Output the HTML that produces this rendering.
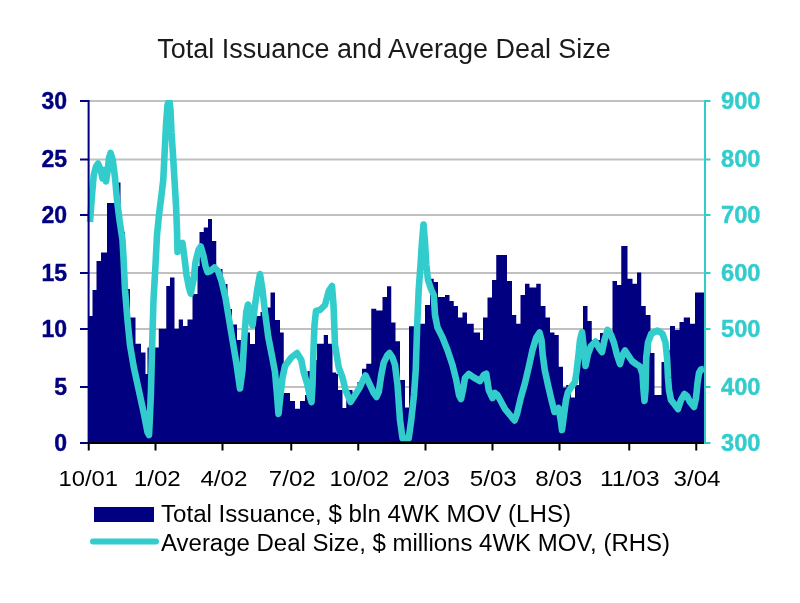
<!DOCTYPE html>
<html><head><meta charset="utf-8"><title>Total Issuance and Average Deal Size</title>
<style>html,body{margin:0;padding:0;background:#fff;overflow:hidden}body{width:800px;height:603px;font-family:"Liberation Sans",sans-serif}</style></head>
<body>
<svg width="800" height="603" viewBox="0 0 800 603" style="display:block;filter:blur(0.55px);font-family:'Liberation Sans',sans-serif">
<rect width="800" height="603" fill="#fff"/>
<rect x="89" y="100" width="616" height="2" fill="#c0c0c0"/>
<rect x="89" y="158.5" width="616" height="2" fill="#c0c0c0"/>
<rect x="89" y="214" width="616" height="2" fill="#c0c0c0"/>
<rect x="89" y="272" width="616" height="2" fill="#c0c0c0"/>
<rect x="89" y="328" width="616" height="2" fill="#c0c0c0"/>
<rect x="89" y="386" width="616" height="2" fill="#c0c0c0"/>
<path d="M89,442.5L89,316L92.5,316L92.5,290L96.5,290L96.5,261L101,261L101,252.5L107,252.5L107,203L118,203L118,182.5L120.5,182.5L120.5,232L125,232L125,289L130,289L130,317.5L135.5,317.5L135.5,343.75L141,343.75L141,352.5L145.5,352.5L145.5,374L147.5,374L147.5,347.5L158.75,347.5L158.75,328.75L166.25,328.75L166.25,286L170,286L170,277.5L174.5,277.5L174.5,328.75L178.75,328.75L178.75,319.5L183,319.5L183,326L187.5,326L187.5,319.5L192.5,319.5L192.5,294L197.5,294L197.5,266L199.5,266L199.5,232L203.75,232L203.75,227.5L208,227.5L208,219L212,219L212,241L216.25,241L216.25,269L222.5,269L222.5,284L227.5,284L227.5,309L232,309L232,324.5L237,324.5L237,340L245,340L245,332.5L250,332.5L250,344L255,344L255,316L260.5,316L260.5,312L266.25,312L266.25,307.5L270.5,307.5L270.5,292.5L275,292.5L275,320L280,320L280,332.5L283.75,332.5L283.75,393L290,393L290,401L295,401L295,408.75L300,408.75L300,401L305,401L305,395L307.5,395L307.5,371L311.25,371L311.25,360L317,360L317,343.75L323.75,343.75L323.75,335L328,335L328,343.75L332.5,343.75L332.5,372.5L336.25,372.5L336.25,374L338,374L338,390L342.5,390L342.5,408L346.25,408L346.25,390L352.5,390L352.5,392.5L357.5,392.5L357.5,382L362,382L362,368.75L366.25,368.75L366.25,363.75L371.25,363.75L371.25,308.75L376.25,308.75L376.25,310.5L382.5,310.5L382.5,297L387,297L387,286.25L391.25,286.25L391.25,322.5L395.5,322.5L395.5,341.25L400,341.25L400,380L405,380L405,407.5L409,407.5L409,326.25L414,326.25L414,326L420,326L420,323.75L425,323.75L425,305L430,305L430,278.75L433.75,278.75L433.75,282L438,282L438,297L445,297L445,295L449.5,295L449.5,301L453.75,301L453.75,306L458,306L458,317.5L462.5,317.5L462.5,312.5L467,312.5L467,323.75L473.75,323.75L473.75,332.5L480,332.5L480,340L483,340L483,317.5L487.5,317.5L487.5,297.5L492,297.5L492,280L496.25,280L496.25,255L507,255L507,281L512,281L512,315L516.25,315L516.25,323.75L520.5,323.75L520.5,295L525,295L525,283.75L529.5,283.75L529.5,287.5L536.25,287.5L536.25,283.75L540.75,283.75L540.75,306L545.5,306L545.5,317.5L550,317.5L550,332.5L554.5,332.5L554.5,335L558.75,335L558.75,366.75L563,366.75L563,387.5L566.25,387.5L566.25,385L571,385L571,397.5L575,397.5L575,385L579,385L579,350L583,350L583,306L587.5,306L587.5,321L591.75,321L591.75,340L600,340L600,333L612.5,333L612.5,281L617,281L617,285L621.25,285L621.25,246L627.5,246L627.5,278.75L632.5,278.75L632.5,283.75L637,283.75L637,272.5L641.25,272.5L641.25,306L645.75,306L645.75,315L650.5,315L650.5,353L654.5,353L654.5,395L661.5,395L661.5,362L664,362L664,350L670,350L670,326L675,326L675,330L679.5,330L679.5,322L683.75,322L683.75,317.5L690,317.5L690,323.75L695,323.75L695,292.5L704.5,292.5L704.5,442.5Z" fill="#000080"/>
<clipPath id="pc"><rect x="86" y="100" width="622" height="345"/></clipPath>
<polyline clip-path="url(#pc)" points="90,222 92,195 93.75,175 96,166.5 98,163.5 100.5,169 102.5,178.5 104,170 106,181.5 107.5,172 109,158 110.6,153 112.75,160 115,177.5 117,200 119.5,220 122.5,240 123.5,257.5 125,290 127.5,320 130,345 133.75,367 138.75,390 143.75,413 147.5,432 149,435 150,415 151,390 152,350 153.5,300 155.5,265 156.5,245 157,235 159,215 161.5,195 163.25,180 164.5,155 166,125 167.5,105 168.5,102 169.5,102 170.5,110 171.5,132.5 173,155 174.5,180 176,205 177,230 177.5,252 180,247 182.5,243 184.5,258 186.5,275 189,288 190.75,293.5 193.5,280 195.5,262 198.5,250 200.75,246.5 203.5,256 205.5,266 207.5,272 210.5,271 214.5,267.5 218,271 221.5,281 225.5,298 228.75,317.5 232.5,340 236.25,362.5 240,388.5 242.5,370 244.5,335 246.25,312 248,304.5 250.5,317 252.5,325.5 254.75,307 257.5,288 260,274 262.5,290 265,312 268.25,337 272,356 275,372 277,395 278.5,414 280.5,395 282.5,378 285,366 291.25,357.5 297,353 301.25,360 303.75,372.5 307.5,385 310,397 311.5,402 312.5,385 313.5,350 314.5,325 316,311 320,310 325,305 328.75,291 332,286 333.5,305 335,345 338.75,367.5 342.5,377.5 345.5,390 350.5,402 355,395 360,387 363.5,379 365.5,375.5 370,385 373.75,393 376.5,397 378.75,392 381.25,375 383.75,362.5 387.5,355 389.5,353 392.5,357.5 395,365 397.5,385 400,420 402.5,438 408.75,438 411.25,420 414,395 415.75,370 417.2,325 418.7,290 420.5,265 422,242 423.5,224.5 425,242 426.3,265 428,280 431,289 433.75,295 435,315 437.5,327.5 442.5,337.5 447.5,350 452.5,365 456.25,380 459,395 461,399 463,390 465,378 468.75,374 473.75,377.5 480,381 483.75,375 486.25,373.75 488.75,390 492.5,398 495,393 497.5,395 505,409 514.5,420.5 517,414 520.75,398 525,383 528.75,367 532.5,350 536.25,337.5 539.5,332.5 541.5,340 542.75,355 544.75,370 548,385 551.5,400 554.5,412 558.5,408 561,422 562,430 564,415 566,400 568,392 571.25,387 575,382 576.5,372 578.5,355 580,340 582,332 583.5,345 585.5,366 588,354 591,346 595.5,341.5 599,348 602,352 604.5,340 607.5,330 611,335 614,343 617,355 620,364 622.5,355 625,350.5 628,355 632,361 636,364 640,366.5 642.5,374 643.5,390 644.5,401 645.5,390 646.25,357.5 648,342.5 651.25,333.75 657.5,330.5 662.5,333.75 665.5,342.5 667,357.5 668,377.5 669,390 671,400 675,405 678,409 681,400 684.5,394 687,396 690,402 694,407 696,398 697.5,383 699,373 701,369.5 704,369" fill="none" stroke="#33cccc" stroke-width="6.6" stroke-linejoin="round" stroke-linecap="butt"/>
<rect x="87.6" y="100" width="2" height="344" fill="#000080"/>
<rect x="80" y="100" width="9" height="2" fill="#000080"/>
<rect x="80" y="158.5" width="9" height="2" fill="#000080"/>
<rect x="80" y="214" width="9" height="2" fill="#000080"/>
<rect x="80" y="272" width="9" height="2" fill="#000080"/>
<rect x="80" y="328" width="9" height="2" fill="#000080"/>
<rect x="80" y="386" width="9" height="2" fill="#000080"/>
<rect x="80" y="442" width="9" height="2" fill="#000080"/>
<rect x="704" y="100" width="2" height="344" fill="#33cccc"/>
<rect x="705" y="100" width="5.5" height="2" fill="#33cccc"/>
<rect x="705" y="158.5" width="5.5" height="2" fill="#33cccc"/>
<rect x="705" y="214" width="5.5" height="2" fill="#33cccc"/>
<rect x="705" y="272" width="5.5" height="2" fill="#33cccc"/>
<rect x="705" y="328" width="5.5" height="2" fill="#33cccc"/>
<rect x="705" y="386" width="5.5" height="2" fill="#33cccc"/>
<rect x="705" y="442" width="5.5" height="2" fill="#33cccc"/>
<rect x="88" y="442" width="616" height="2" fill="#000"/>
<rect x="87.75" y="443" width="2" height="7.5" fill="#000"/>
<rect x="154.5" y="443" width="2" height="7.5" fill="#000"/>
<rect x="221.5" y="443" width="2" height="7.5" fill="#000"/>
<rect x="290.25" y="443" width="2" height="7.5" fill="#000"/>
<rect x="357.25" y="443" width="2" height="7.5" fill="#000"/>
<rect x="424.5" y="443" width="2" height="7.5" fill="#000"/>
<rect x="491.5" y="443" width="2" height="7.5" fill="#000"/>
<rect x="558.5" y="443" width="2" height="7.5" fill="#000"/>
<rect x="628.25" y="443" width="2" height="7.5" fill="#000"/>
<rect x="695.25" y="443" width="2" height="7.5" fill="#000"/>
<text x="67" y="108.8" text-anchor="end" font-size="23" font-weight="bold" fill="#000080" stroke="#000080" stroke-width="0.4">30</text>
<text x="67" y="167.3" text-anchor="end" font-size="23" font-weight="bold" fill="#000080" stroke="#000080" stroke-width="0.4">25</text>
<text x="67" y="222.8" text-anchor="end" font-size="23" font-weight="bold" fill="#000080" stroke="#000080" stroke-width="0.4">20</text>
<text x="67" y="280.8" text-anchor="end" font-size="23" font-weight="bold" fill="#000080" stroke="#000080" stroke-width="0.4">15</text>
<text x="67" y="336.8" text-anchor="end" font-size="23" font-weight="bold" fill="#000080" stroke="#000080" stroke-width="0.4">10</text>
<text x="67" y="394.8" text-anchor="end" font-size="23" font-weight="bold" fill="#000080" stroke="#000080" stroke-width="0.4">5</text>
<text x="67" y="450.8" text-anchor="end" font-size="23" font-weight="bold" fill="#000080" stroke="#000080" stroke-width="0.4">0</text>
<text x="721" y="108.5" font-size="23" font-weight="bold" fill="#33cccc" stroke="#33cccc" stroke-width="0.4" textLength="39.5" lengthAdjust="spacingAndGlyphs">900</text>
<text x="721" y="167.0" font-size="23" font-weight="bold" fill="#33cccc" stroke="#33cccc" stroke-width="0.4" textLength="39.5" lengthAdjust="spacingAndGlyphs">800</text>
<text x="721" y="222.5" font-size="23" font-weight="bold" fill="#33cccc" stroke="#33cccc" stroke-width="0.4" textLength="39.5" lengthAdjust="spacingAndGlyphs">700</text>
<text x="721" y="280.5" font-size="23" font-weight="bold" fill="#33cccc" stroke="#33cccc" stroke-width="0.4" textLength="39.5" lengthAdjust="spacingAndGlyphs">600</text>
<text x="721" y="336.5" font-size="23" font-weight="bold" fill="#33cccc" stroke="#33cccc" stroke-width="0.4" textLength="39.5" lengthAdjust="spacingAndGlyphs">500</text>
<text x="721" y="394.5" font-size="23" font-weight="bold" fill="#33cccc" stroke="#33cccc" stroke-width="0.4" textLength="39.5" lengthAdjust="spacingAndGlyphs">400</text>
<text x="721" y="450.5" font-size="23" font-weight="bold" fill="#33cccc" stroke="#33cccc" stroke-width="0.4" textLength="39.5" lengthAdjust="spacingAndGlyphs">300</text>
<text x="88.2" y="486" text-anchor="middle" font-size="22" fill="#000" textLength="59.5" lengthAdjust="spacingAndGlyphs">10/01</text>
<text x="157.3" y="486" text-anchor="middle" font-size="22" fill="#000" textLength="47" lengthAdjust="spacingAndGlyphs">1/02</text>
<text x="223.9" y="486" text-anchor="middle" font-size="22" fill="#000" textLength="47" lengthAdjust="spacingAndGlyphs">4/02</text>
<text x="292.3" y="486" text-anchor="middle" font-size="22" fill="#000" textLength="47" lengthAdjust="spacingAndGlyphs">7/02</text>
<text x="359.25" y="486" text-anchor="middle" font-size="22" fill="#000" textLength="59.5" lengthAdjust="spacingAndGlyphs">10/02</text>
<text x="426.5" y="486" text-anchor="middle" font-size="22" fill="#000" textLength="47" lengthAdjust="spacingAndGlyphs">2/03</text>
<text x="493.3" y="486" text-anchor="middle" font-size="22" fill="#000" textLength="47" lengthAdjust="spacingAndGlyphs">5/03</text>
<text x="558.75" y="486" text-anchor="middle" font-size="22" fill="#000" textLength="47" lengthAdjust="spacingAndGlyphs">8/03</text>
<text x="629.8" y="486" text-anchor="middle" font-size="22" fill="#000" textLength="59.5" lengthAdjust="spacingAndGlyphs">11/03</text>
<text x="697" y="486" text-anchor="middle" font-size="22" fill="#000" textLength="47" lengthAdjust="spacingAndGlyphs">3/04</text>
<text x="157.3" y="57.5" font-size="27" fill="#1a1a1a" textLength="453.5" lengthAdjust="spacingAndGlyphs">Total Issuance and Average Deal Size</text>
<rect x="94" y="507" width="60" height="15" fill="#000080"/>
<line x1="93" y1="541.5" x2="156" y2="541.5" stroke="#33cccc" stroke-width="6" stroke-linecap="round"/>
<text x="161" y="522" font-size="23" fill="#000" textLength="410" lengthAdjust="spacingAndGlyphs">Total Issuance, $ bln 4WK MOV (LHS)</text>
<text x="161" y="551" font-size="23" fill="#000" textLength="509" lengthAdjust="spacingAndGlyphs">Average Deal Size, $ millions 4WK MOV, (RHS)</text>
</svg>
</body></html>
